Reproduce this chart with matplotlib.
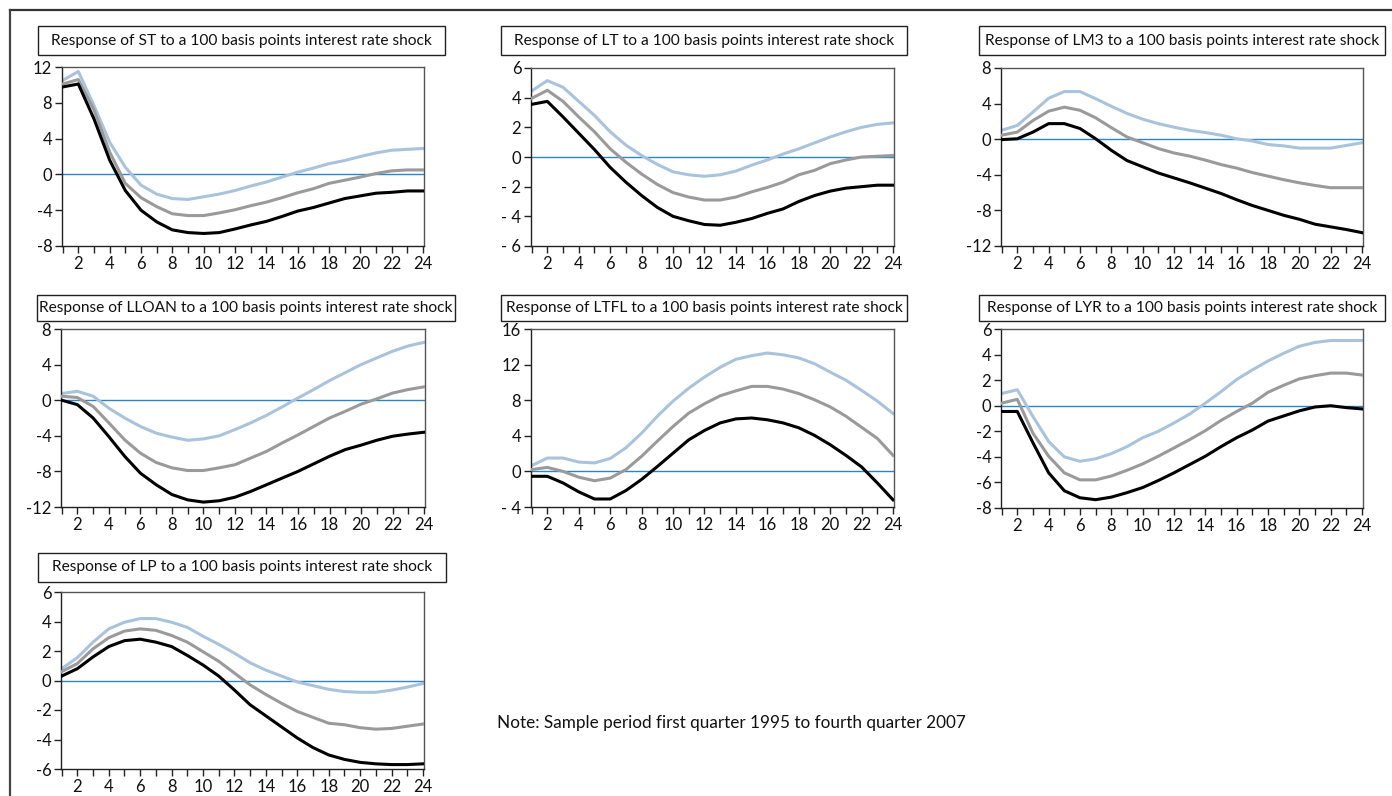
import matplotlib
matplotlib.use("Agg")
import matplotlib.pyplot as plt
from matplotlib.patches import Rectangle
from matplotlib.lines import Line2D

plt.rcParams['font.family'] = ['Lato', 'DejaVu Sans']

W, H = 1392, 796
horizon = list(range(1, 25))

# ---- data: (lower band, point estimate, upper band) ----
st_low = [9.77, 10.1, 6.2, 1.6, -1.8, -4.0, -5.3, -6.2, -6.5, -6.6, -6.5, -6.1, -5.65, -5.25,
          -4.7, -4.1, -3.7, -3.2, -2.7, -2.4, -2.1, -2.0, -1.85, -1.85]
st_mid = [10.1, 10.6, 7.2, 2.5, -1.0, -2.6, -3.6, -4.4, -4.6, -4.6, -4.3, -3.95, -3.5, -3.1,
          -2.6, -2.05, -1.6, -1.0, -0.65, -0.3, 0.1, 0.4, 0.5, 0.5]
st_up = [10.5, 11.5, 7.7, 3.6, 0.8, -1.2, -2.2, -2.7, -2.8, -2.5, -2.2, -1.8, -1.3, -0.85,
         -0.3, 0.25, 0.7, 1.2, 1.55, 2.0, 2.4, 2.7, 2.8, 2.9]

lt_low = [3.55, 3.75, 2.7, 1.6, 0.5, -0.7, -1.7, -2.6, -3.4, -4.0, -4.3, -4.55, -4.6, -4.4,
          -4.15, -3.8, -3.5, -3.0, -2.6, -2.3, -2.1, -2.0, -1.9, -1.9]
lt_mid = [3.95, 4.5, 3.75, 2.7, 1.7, 0.55, -0.35, -1.15, -1.85, -2.4, -2.7, -2.9, -2.9, -2.7,
          -2.35, -2.05, -1.7, -1.2, -0.9, -0.45, -0.2, 0.0, 0.05, 0.1]
lt_up = [4.45, 5.15, 4.7, 3.75, 2.8, 1.7, 0.8, 0.1, -0.5, -1.0, -1.2, -1.3, -1.2, -0.95,
         -0.55, -0.2, 0.2, 0.55, 0.95, 1.35, 1.7, 2.0, 2.2, 2.3]

lm3_low = [-0.05, 0.05, 0.8, 1.75, 1.75, 1.2, 0.05, -1.25, -2.4, -3.1, -3.8, -4.35, -4.9, -5.5,
           -6.1, -6.8, -7.45, -8.0, -8.55, -9.0, -9.55, -9.85, -10.15, -10.5]
lm3_mid = [0.45, 0.8, 2.1, 3.15, 3.6, 3.25, 2.4, 1.3, 0.25, -0.4, -1.05, -1.55, -1.9, -2.35,
           -2.85, -3.25, -3.75, -4.15, -4.55, -4.9, -5.2, -5.45, -5.45, -5.45]
lm3_up = [1.0, 1.55, 3.05, 4.6, 5.35, 5.35, 4.55, 3.7, 2.9, 2.25, 1.75, 1.35, 1.0, 0.75,
          0.45, 0.05, -0.2, -0.6, -0.75, -1.0, -1.0, -1.0, -0.7, -0.4]

lloan_low = [0.0, -0.5, -2.0, -4.1, -6.3, -8.2, -9.5, -10.6, -11.2, -11.45, -11.3, -10.9, -10.25,
             -9.5, -8.75, -8.0, -7.15, -6.3, -5.55, -5.05, -4.5, -4.05, -3.8, -3.6]
lloan_mid = [0.45, 0.3, -0.7, -2.55, -4.45, -5.95, -7.0, -7.6, -7.9, -7.9, -7.6, -7.25, -6.5,
             -5.75, -4.8, -3.9, -2.95, -2.0, -1.25, -0.45, 0.15, 0.8, 1.2, 1.5]
lloan_up = [0.75, 1.0, 0.45, -0.9, -2.0, -2.95, -3.7, -4.15, -4.5, -4.35, -4.0, -3.3, -2.55,
            -1.7, -0.75, 0.25, 1.2, 2.2, 3.1, 4.0, 4.75, 5.5, 6.1, 6.5]

ltfl_low = [-0.55, -0.55, -1.3, -2.3, -3.1, -3.1, -2.15, -0.9, 0.55, 2.05, 3.55, 4.6, 5.45, 5.9,
            6.0, 5.8, 5.45, 4.9, 4.05, 3.0, 1.8, 0.5, -1.3, -3.2]
ltfl_mid = [0.2, 0.45, 0.0, -0.65, -1.05, -0.75, 0.2, 1.7, 3.4, 5.05, 6.55, 7.6, 8.5, 9.05,
            9.55, 9.55, 9.25, 8.75, 8.05, 7.25, 6.2, 4.95, 3.7, 1.8]
ltfl_up = [0.65, 1.5, 1.5, 1.05, 0.95, 1.45, 2.65, 4.3, 6.2, 7.9, 9.35, 10.6, 11.7, 12.6,
           13.0, 13.3, 13.1, 12.75, 12.1, 11.15, 10.25, 9.1, 7.9, 6.5]

lyr_low = [-0.45, -0.45, -2.9, -5.25, -6.65, -7.2, -7.35, -7.15, -6.8, -6.4, -5.85, -5.25, -4.6,
           -3.95, -3.2, -2.5, -1.9, -1.2, -0.8, -0.4, -0.1, 0.0, -0.15, -0.25]
lyr_mid = [0.2, 0.5, -2.15, -3.95, -5.25, -5.8, -5.8, -5.5, -5.05, -4.55, -3.95, -3.3, -2.65,
           -1.95, -1.15, -0.45, 0.2, 1.05, 1.6, 2.1, 2.35, 2.55, 2.55, 2.4]
lyr_up = [0.95, 1.25, -0.85, -2.8, -4.0, -4.35, -4.15, -3.75, -3.2, -2.5, -2.0, -1.35, -0.65,
          0.2, 1.1, 2.05, 2.8, 3.5, 4.1, 4.65, 4.95, 5.1, 5.1, 5.1]

lp_low = [0.3, 0.8, 1.6, 2.3, 2.7, 2.8, 2.6, 2.3, 1.7, 1.05, 0.3, -0.65, -1.65, -2.4, -3.15,
          -3.9, -4.55, -5.05, -5.35, -5.55, -5.65, -5.7, -5.7, -5.65]
lp_mid = [0.6, 1.15, 2.15, 2.9, 3.35, 3.5, 3.4, 3.05, 2.6, 1.95, 1.3, 0.5, -0.3, -0.95, -1.55,
          -2.1, -2.5, -2.9, -3.0, -3.2, -3.3, -3.25, -3.1, -2.95]
lp_up = [0.8, 1.55, 2.6, 3.5, 3.95, 4.2, 4.2, 3.95, 3.6, 3.0, 2.45, 1.85, 1.2, 0.7, 0.3, -0.1,
         -0.35, -0.6, -0.75, -0.8, -0.8, -0.65, -0.45, -0.2]

variables = ["ST", "LT", "LM3", "LLOAN", "LTFL", "LYR", "LP"]
series = [(st_low, st_mid, st_up), (lt_low, lt_mid, lt_up), (lm3_low, lm3_mid, lm3_up),
          (lloan_low, lloan_mid, lloan_up), (ltfl_low, ltfl_mid, ltfl_up),
          (lyr_low, lyr_mid, lyr_up), (lp_low, lp_mid, lp_up)]
yticks = [[12, 8, 4, 0, -4, -8], [6, 4, 2, 0, -2, -4, -6], [8, 4, 0, -4, -8, -12],
          [8, 4, 0, -4, -8, -12], [16, 12, 8, 4, 0, -4], [6, 4, 2, 0, -2, -4, -6, -8],
          [6, 4, 2, 0, -2, -4, -6]]
ytick_labels = [["12", "8", "4", "0", "-4", "-8"], ["6", "4", "2", "0", "- 2", "- 4", "- 6"],
                ["8", "4", "0", "-4", "-8", "-12"], ["8", "4", "0", "-4", "-8", "-12"],
                ["16", "12", "8", "4", "0", "- 4"], ["6", "4", "2", "0", "-2", "-4", "-6", "-8"],
                ["6", "4", "2", "0", "-2", "-4", "-6"]]
note_text = "Note: Sample period first quarter 1995 to fourth quarter 2007"

# ---- layout in pixels: axes (left, top, right, bottom), title box (left, top, right, bottom)
axes_px = [(62, 67, 424, 246), (531, 68, 894, 246), (1001, 68, 1363, 246),
           (61, 329, 425, 507), (531, 329, 894, 507), (1001, 329, 1363, 508),
           (61, 592, 424, 769)]
box_px = [(38, 26, 445, 55), (501, 26, 907, 55), (979, 26, 1385, 55),
          (37, 295, 455, 321), (501, 295, 907, 321), (979, 295, 1385, 321),
          (38, 553, 446, 582)]

fig = plt.figure(figsize=(W / 100, H / 100), dpi=100)

def fx(x):
    return x / W

def fy(y):
    return 1 - y / H

# outer frame lines
fig.add_artist(Line2D([fx(10), fx(1392)], [fy(10), fy(10)], color="#333333", lw=1.6))
fig.add_artist(Line2D([fx(10), fx(10)], [fy(10), fy(796)], color="#444444", lw=1.6))

c_low, c_mid, c_up = "#000000", "#9a9a9a", "#a9c3dc"
for i, var in enumerate(variables):
    l, t, r, b = axes_px[i]
    ax = fig.add_axes([fx(l), fy(b), (r - l) / W, (b - t) / H])
    low, mid, up = series[i]
    ax.axhline(0, color="#2a86c8", lw=1.0, zorder=1)
    ax.plot(horizon, up, color=c_up, lw=2.2, zorder=2)
    ax.plot(horizon, mid, color=c_mid, lw=2.2, zorder=3)
    ax.plot(horizon, low, color=c_low, lw=2.2, zorder=4)
    ax.set_xlim(0.96, 24.06)
    ax.set_ylim(min(yticks[i]), max(yticks[i]))
    ax.set_yticks(yticks[i])
    ax.set_yticklabels(ytick_labels[i])
    ax.set_xticks(list(range(2, 25, 2)))
    ax.set_xticks(list(range(1, 25)), minor=True)
    ax.tick_params(axis="both", which="both", direction="out", length=5, width=1,
                   color="#222222", labelsize=12, pad=2, labelcolor="#111111")
    ax.tick_params(axis="x", which="major", pad=2)
    for s in ["left", "bottom"]:
        ax.spines[s].set_color("#222222")
        ax.spines[s].set_linewidth(1.0)
    for s in ["top", "right"]:
        ax.spines[s].set_color("#555555")
        ax.spines[s].set_linewidth(1.0)
    # title box
    bl, bt, br, bb = box_px[i]
    fig.add_artist(Rectangle((fx(bl), fy(bb)), (br - bl) / W, (bb - bt) / H,
                             transform=fig.transFigure, fill=False, edgecolor="#222222", lw=1.0))
    fig.text(fx((bl + br) / 2), fy((bt + bb) / 2),
             f"Response of {var} to a 100 basis points interest rate shock",
             ha="center", va="center", fontsize=11.2, color="#111111")

fig.text(fx(497), fy(723), note_text, ha="left", va="center", fontsize=12.3, color="#111111")

fig.savefig("out.png", dpi=100)
